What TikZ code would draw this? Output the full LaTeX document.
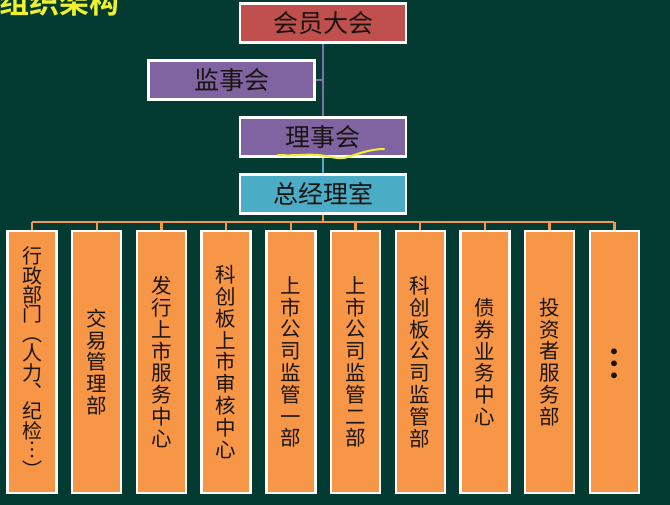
\documentclass[tikz,border=0pt]{standalone}
\usepackage{fontspec}
\setmainfont{Noto Sans CJK SC}
\newfontfamily\cjkbold{Noto Sans CJK SC Bold}
\definecolor{bg}{HTML}{033B33}
\definecolor{redbox}{HTML}{C0504D}
\definecolor{purplebox}{HTML}{8064A2}
\definecolor{cyanbox}{HTML}{4BACC6}
\definecolor{orangebox}{HTML}{F79646}
\definecolor{titleyellow}{HTML}{EEF030}
\definecolor{linepurple}{HTML}{7E70A8}
\definecolor{txt}{HTML}{1A1410}
\tikzset{
  box/.style={draw=white, line width=2.4pt, inner sep=0pt, text=txt,
    font=\fontsize{25}{27}\selectfont},
  topbox/.style={box, minimum width=166pt, minimum height=39pt},
  dept/.style={box, fill=orangebox, minimum width=49pt, minimum height=262pt,
    align=center, font=\fontsize{20.5}{21.8}\selectfont},
  olink/.style={draw=orangebox, line width=2.4pt},
}
\begin{document}
\begin{tikzpicture}[x=1pt,y=-1pt]
\useasboundingbox[fill=bg] (0,0) rectangle (670,505);
% title (cut off at top, as in the reference)
\node[anchor=base west, inner sep=0pt, text=titleyellow, font=\cjkbold\fontsize{30}{32}\selectfont] (title) at (-1,14) {组织架构};
% top boxes
\node[topbox, fill=redbox] (hy) at (323,23) {会员大会};
\node[topbox, fill=purplebox] (js) at (231.5,80) {监事会};
\node[topbox, fill=purplebox] (ls) at (323,137) {理事会};
\node[topbox, fill=cyanbox] (zj) at (323,194) {总经理室};
% connectors
\draw[linepurple, line width=2pt] (hy.south) -- (ls.north);
\coordinate (jm) at (hy.south |- js.east);
\draw[linepurple, line width=2pt] (js.east) -- (jm);
\draw[cyanbox, line width=2pt] (ls.south) -- (zj.north);
% departments
\node[dept, font=\fontsize{20}{19.4}\selectfont] (d1) at (32,362) {行\\政\\部\\门\\︵\\人\\力\\︑\\纪\\检\\︙\\︶};
\foreach \i/\t in {
 2/{交\\易\\管\\理\\部},
 3/{发\\行\\上\\市\\服\\务\\中\\心},
 4/{科\\创\\板\\上\\市\\审\\核\\中\\心},
 5/{上\\市\\公\\司\\监\\管\\一\\部},
 6/{上\\市\\公\\司\\监\\管\\二\\部},
 7/{科\\创\\板\\公\\司\\监\\管\\部},
 8/{债\\券\\业\\务\\中\\心},
 9/{投\\资\\者\\服\\务\\部},
 10/{}}{
  \node[dept] (d\i) at ({32+64.7*(\i-1)},362) {\t};
}
\node[inner sep=0pt, text=txt, font=\cjkbold\fontsize{36}{36}\selectfont] (dots) at ([yshift=-2pt]d10.center) {︙};
\coordinate (bar) at (323,222);
\draw[olink] (zj.south) -- (bar);
\draw[olink] (d1.north |- bar) -- (d10.north |- bar);
\foreach \i in {1,...,10}{
  \draw[olink] (d\i.north |- bar) -- (d\i.north);
}
% handwritten underline
\draw[titleyellow, line width=2pt, line cap=round]
  (278,155) .. controls (295,156) and (305,154) .. (318,155)
  .. controls (330,156) and (338,160) .. (348,157)
  .. controls (360,153) and (372,149) .. (384,149);
\end{tikzpicture}
\end{document}
